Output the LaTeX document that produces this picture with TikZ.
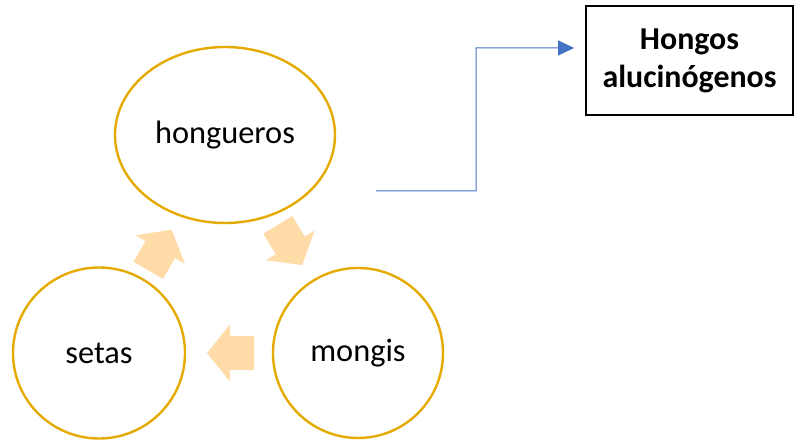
\documentclass[tikz,border=0pt]{standalone}
\usepackage{fontspec}
\setmainfont{Carlito}
\usetikzlibrary{shapes.geometric,arrows.meta,calc}
\definecolor{ringgold}{RGB}{229,170,0}
\definecolor{cyclefill}{RGB}{255,219,168}
\definecolor{linkblue}{RGB}{68,114,196}
\tikzset{
  ring/.style={ellipse, draw=ringgold, line width=2.4bp, inner sep=0pt,
    font=\fontsize{32.5}{38}\selectfont},
  titlebox/.style={draw=black, line width=1.8bp, minimum width=207bp, minimum height=109bp,
    align=center, inner sep=0pt, font=\bfseries\fontsize{32}{38}\selectfont},
  link/.style={draw=linkblue, line width=1bp, -{Triangle[length=16bp,width=15bp]}},
}
% block arrow of the cycle, centred at the origin and pointing along +x
\newcommand{\cyclearrow}[2]{%
  \fill[cyclefill, shift={#1}, rotate=#2]
    (23.5,0) -- (0.5,28.5) -- (0.5,17) -- (-23.5,17) -- (-23.5,-17) -- (0.5,-17) -- (0.5,-28.5) -- cycle;}
\begin{document}
\begin{tikzpicture}[x=1bp,y=1bp]
\useasboundingbox (0,0) rectangle (794,441);
\node[ring, minimum width=220bp, minimum height=176bp] (hong) at (225,306) {hongueros};
\node[ring, minimum width=172bp, minimum height=171bp] (setas) at (99,88) {setas};
\node[ring, minimum width=170bp, minimum height=170bp] (mong) at (358,88) {mongis};
\cyclearrow{(290,196)}{-58.6}
\cyclearrow{(230.5,88)}{180}
\cyclearrow{(160,191)}{60}
\node[titlebox] (box) at (689.5,380.5) {Hongos\\alucinógenos};
\coordinate (src) at (376,250);
\coordinate (elbow) at (476,393);
\coordinate (hin) at ($(box.west)+(-11,12.5)$);
\draw[link] (src) -| (elbow) -- (hin);
\end{tikzpicture}
\end{document}
